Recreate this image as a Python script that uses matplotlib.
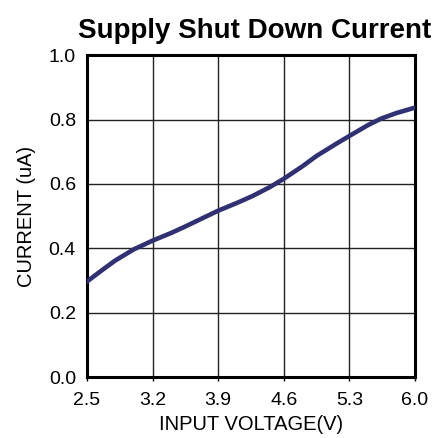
import matplotlib
matplotlib.use('Agg')
import matplotlib.pyplot as plt

# values
voltage = [2.5, 2.65, 2.8, 3.0, 3.2, 3.4, 3.55, 3.75, 3.9, 4.1, 4.27, 4.45, 4.6,
           4.8, 4.95, 5.15, 5.3, 5.5, 5.64, 5.8, 6.0]
current = [0.297, 0.33, 0.362, 0.397, 0.424, 0.448, 0.468, 0.496, 0.517, 0.541, 0.563,
           0.59, 0.616, 0.655, 0.687, 0.723, 0.749, 0.783, 0.803, 0.82, 0.837]

xticks = [2.5, 3.2, 3.9, 4.6, 5.3, 6.0]
yticks = [0.0, 0.2, 0.4, 0.6, 0.8, 1.0]

plt.rcParams['font.family'] = ['Liberation Sans', 'DejaVu Sans']

fig = plt.figure(figsize=(4.34, 4.38), dpi=100)
ax = fig.add_axes([0.2005, 0.139, 0.7555, 0.735])

ax.plot(voltage, current, color='#2f3173', linewidth=3.3,
        solid_capstyle='round', solid_joinstyle='round', zorder=3)

ax.set_xlim(2.5, 6.0)
ax.set_ylim(0.0, 1.0)
ax.set_xticks(xticks)
ax.set_xticklabels(['%.1f' % v for v in xticks])
ax.set_yticks(yticks)
ax.set_yticklabels(['%.1f' % v for v in yticks])

ax.grid(True, color='#222222', linewidth=1.0)
for s in ax.spines.values():
    s.set_linewidth(2.2)
    s.set_color('black')

ax.tick_params(axis='x', length=3, width=1.0, direction='out', pad=8, labelsize=14)
ax.tick_params(axis='y', length=0, pad=8, labelsize=14)

ax.set_xlabel('INPUT VOLTAGE(V)', fontsize=14.5, labelpad=4)
ax.set_ylabel('CURRENT (uA)', fontsize=14.5, labelpad=9)

fig.text(78 / 434, 1 - 31 / 438, 'Supply Shut Down Current', fontsize=20,
         fontweight='bold', ha='left', va='center')

fig.savefig('out.png', dpi=100)
